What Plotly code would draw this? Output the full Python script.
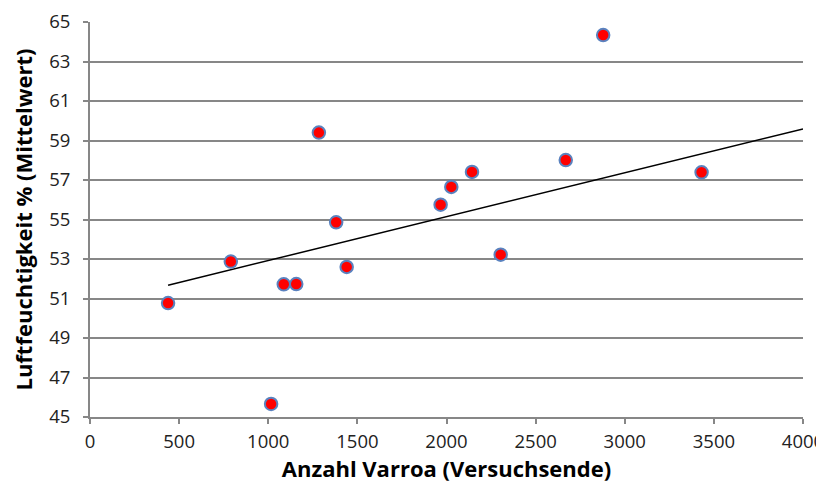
import plotly.graph_objects as go

varroa = [438, 790, 1016, 1087, 1157, 1284, 1381, 1440, 1967, 2027, 2143, 2304, 2669, 2879, 3431]
humidity = [50.77, 52.87, 45.66, 51.72, 51.73, 59.4, 54.86, 52.6, 55.75, 56.65, 57.41, 53.22, 58.01, 64.34, 57.39]
x_ticks = [0, 500, 1000, 1500, 2000, 2500, 3000, 3500, 4000]
y_ticks = [45, 47, 49, 51, 53, 55, 57, 59, 61, 63, 65]

# linear trend line as drawn in the reference
trend_slope = 0.002221
trend_intercept = 50.70
trend_x = [min(varroa), 4000]
trend_y = [trend_slope * v + trend_intercept for v in trend_x]

fig = go.Figure()
fig.add_trace(go.Scatter(x=trend_x, y=trend_y, mode="lines",
                         line=dict(color="black", width=1.5), showlegend=False, hoverinfo="skip"))
fig.add_trace(go.Scatter(x=varroa, y=humidity, mode="markers",
                         marker=dict(color="#ff0000", size=12.5, line=dict(color="#5a82bf", width=2)),
                         showlegend=False))

font_family = "Open Sans, DejaVu Sans, sans-serif"
axis_common = dict(zeroline=False, showline=True, linecolor="#878787", linewidth=2,
                   ticks="outside", ticklen=5, tickcolor="#878787", tickwidth=1.5,
                   tickfont=dict(size=18.5, color="#222222"), automargin=False,
                   ticklabeloverflow="allow")
# page body has an 8px default margin, so margins are shifted to compensate
fig.update_layout(
    width=824, height=487,
    margin=dict(l=82, r=29, t=14, b=78),
    plot_bgcolor="white", paper_bgcolor="white",
    font=dict(family=font_family, size=18, color="#000000"),
    xaxis=dict(range=[0, 4000], tickvals=x_ticks, showgrid=False, ticklabelstandoff=2,
               title=dict(text="<b>Anzahl Varroa (Versuchsende)</b>", font=dict(size=22), standoff=5),
               **axis_common),
    yaxis=dict(range=[45, 65], tickvals=y_ticks, showgrid=True, gridcolor="#878787", gridwidth=1.5,
               ticklabelstandoff=9,
               title=dict(text="<b>Luftfeuchtigkeit % (Mittelwert)</b>", font=dict(size=22), standoff=12),
               **axis_common),
)
fig.write_html("out.html")
